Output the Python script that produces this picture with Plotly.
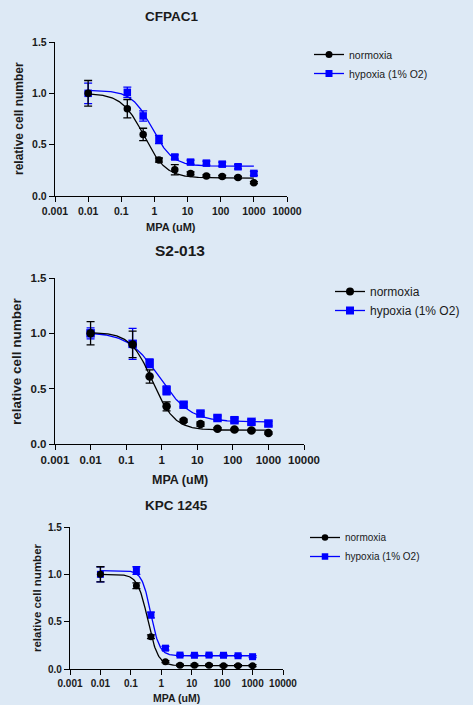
import numpy as np
import plotly.graph_objects as go

W, H = 473, 705
BG = "#dde9f5"
FONT = "Liberation Sans, Arial, sans-serif"

# ---------------- data ----------------
conc = [0.01, 0.152, 0.457, 1.37, 4.12, 12.3, 37.0, 111.0, 333.0, 1000.0]

titles = ["CFPAC1", "S2-013", "KPC 1245"]
series_names = ["normoxia", "hypoxia (1% O2)"]

cfpac_norm = [1.00, 0.85, 0.60, 0.35, 0.255, 0.22, 0.195, 0.19, 0.18, 0.13]
cfpac_norm_err = [0.125, 0.09, 0.06, 0.02, 0.05, 0.015, 0.01, 0.01, 0.01, 0.01]
cfpac_hyp = [1.00, 1.01, 0.78, 0.55, 0.38, 0.33, 0.32, 0.31, 0.285, 0.22]
cfpac_hyp_err = [0.10, 0.05, 0.05, 0.04, 0.02, 0.02, 0.02, 0.02, 0.02, 0.02]

s2_norm = [1.00, 0.90, 0.61, 0.34, 0.21, 0.18, 0.138, 0.13, 0.123, 0.10]
s2_norm_err = [0.105, 0.12, 0.06, 0.04, 0.015, 0.02, 0.01, 0.01, 0.01, 0.01]
s2_hyp = [1.00, 0.905, 0.73, 0.485, 0.355, 0.275, 0.235, 0.215, 0.20, 0.185]
s2_hyp_err = [0.05, 0.14, 0.04, 0.04, 0.02, 0.02, 0.02, 0.02, 0.02, 0.02]

kpc_norm = [1.00, 0.88, 0.34, 0.077, 0.04, 0.04, 0.04, 0.035, 0.035, 0.035]
kpc_norm_err = [0.08, 0.03, 0.02, 0.01, 0.01, 0.01, 0.01, 0.01, 0.01, 0.01]
kpc_hyp = [1.00, 1.04, 0.57, 0.22, 0.147, 0.145, 0.147, 0.145, 0.14, 0.13]
kpc_hyp_err = [0.08, 0.04, 0.03, 0.02, 0.01, 0.01, 0.01, 0.01, 0.01, 0.01]

# 4-parameter logistic fits: [top, bottom, IC50, hill]
cfpac_norm_fit = [1.00, 0.175, 0.48, 1.3]
cfpac_hyp_fit = [1.03, 0.29, 0.85, 1.4]
s2_norm_fit = [1.01, 0.125, 0.55, 1.4]
s2_hyp_fit = [1.01, 0.20, 0.85, 1.0]
kpc_norm_fit = [1.00, 0.035, 0.36, 2.6]
kpc_hyp_fit = [1.04, 0.14, 0.45, 3.0]

x_tickvals = [0.001, 0.01, 0.1, 1, 10, 100, 1000, 10000]
x_ticktext = ["0.001", "0.01", "0.1", "1", "10", "100", "1000", "10000"]
y_tickvals = [0.0, 0.5, 1.0, 1.5]
y_ticktext = ["0.0", "0.5", "1.0", "1.5"]

x_title = "MPA (uM)"
y_title = "relative cell number"

# ---------------- layout geometry (pixels) ----------------
panels = [
    dict(x0=55, x1=287, y0=42, y1=196, tick=10.5, title=13.5, axt=12, leg=10.5,
         legx=309, legy=40, ms=7.5, ytx=19, xty=227, tty=16),
    dict(x0=55, x1=304, y0=278, y1=444, tick=11.5, title=15.5, axt=13.5, leg=12,
         legx=330, legy=277, ms=8.5, ytx=16, xty=480, tty=251),
    dict(x0=70, x1=283, y0=527, y1=669, tick=10, title=13.5, axt=11.5, leg=10,
         legx=305, legy=523, ms=7, ytx=37, xty=698, tty=505),
]

def fourpl(x, p):
    top, bottom, ic50, hill = p
    x = np.asarray(x, dtype=float)
    return bottom + (top - bottom) / (1.0 + (x / ic50) ** hill)

data_sets = [
    (cfpac_norm, cfpac_norm_err, cfpac_hyp, cfpac_hyp_err, cfpac_norm_fit, cfpac_hyp_fit),
    (s2_norm, s2_norm_err, s2_hyp, s2_hyp_err, s2_norm_fit, s2_hyp_fit),
    (kpc_norm, kpc_norm_err, kpc_hyp, kpc_hyp_err, kpc_norm_fit, kpc_hyp_fit),
]

colors = ["#000000", "#0000ff"]
symbols = ["circle", "square"]

fig = go.Figure()
curve_x = np.logspace(np.log10(conc[0]), np.log10(conc[-1]), 300)

annotations = []
for i, (pan, ds) in enumerate(zip(panels, data_sets)):
    n = "" if i == 0 else str(i + 1)
    xa, ya = "x" + n, "y" + n
    leg = "legend" + n
    norm, norm_err, hyp, hyp_err, nfit, hfit = ds
    series = [(norm, norm_err, nfit), (hyp, hyp_err, hfit)]
    # draw hypoxia first so normoxia sits on top
    for k in [1, 0]:
        vals, errs, fit = series[k]
        fig.add_trace(go.Scatter(
            x=curve_x, y=fourpl(curve_x, fit), mode="lines",
            line=dict(color=colors[k], width=1.3), xaxis=xa, yaxis=ya,
            showlegend=False, hoverinfo="skip"))
        fig.add_trace(go.Scatter(
            x=conc, y=vals, mode="markers",
            marker=dict(color=colors[k], symbol=symbols[k], size=pan["ms"]),
            error_y=dict(type="data", array=errs, color=colors[k], thickness=1.3, width=4),
            xaxis=xa, yaxis=ya, showlegend=False))
    for k in [0, 1]:
        fig.add_trace(go.Scatter(
            x=[None], y=[None], mode="lines+markers", name=series_names[k],
            line=dict(color=colors[k], width=1.3),
            marker=dict(color=colors[k], symbol=symbols[k], size=pan["ms"] - 0.5),
            xaxis=xa, yaxis=ya, legend=leg, showlegend=True))

    axis_common = dict(showline=True, linecolor="black", linewidth=1.4,
                       ticks="outside", ticklen=5, tickwidth=1.4, tickcolor="black",
                       showgrid=False, zeroline=False, automargin=False,
                       tickfont=dict(family=FONT, size=pan["tick"], color="#1a1a1a",
                                     weight="bold"))
    fig.update_layout(**{
        "xaxis" + n: dict(type="log", range=[-3, 4], tickvals=x_tickvals,
                          ticktext=x_ticktext, anchor=ya,
                          domain=[pan["x0"] / W, pan["x1"] / W], **axis_common),
        "yaxis" + n: dict(range=[0, 1.5], tickvals=y_tickvals, ticktext=y_ticktext,
                          anchor=xa,
                          domain=[1 - pan["y1"] / H, 1 - pan["y0"] / H], **axis_common),
        leg: dict(x=pan["legx"] / W, y=1 - pan["legy"] / H, xanchor="left", yanchor="top",
                  bgcolor="rgba(0,0,0,0)", tracegroupgap=0,
                  font=dict(family=FONT, size=pan["leg"], color="#1a1a1a")),
    })
    cx = (pan["x0"] + pan["x1"]) / 2 / W
    annotations.append(dict(text=titles[i], x=cx, y=1 - pan["tty"] / H, xref="paper",
                            yref="paper", showarrow=False, xanchor="center", yanchor="middle",
                            font=dict(family=FONT, size=pan["title"], color="#1a1a1a",
                                      weight="bold")))
    annotations.append(dict(text=x_title, x=cx, y=1 - pan["xty"] / H, xref="paper",
                            yref="paper", showarrow=False, xanchor="center", yanchor="middle",
                            font=dict(family=FONT, size=pan["axt"] - 1, color="#1a1a1a",
                                      weight="bold")))
    annotations.append(dict(text=y_title, x=pan["ytx"] / W,
                            y=1 - (pan["y0"] + pan["y1"]) / 2 / H, xref="paper",
                            yref="paper", showarrow=False, xanchor="center", yanchor="middle",
                            textangle=-90,
                            font=dict(family=FONT, size=pan["axt"], color="#1a1a1a",
                                      weight="bold")))

fig.update_layout(width=W, height=H, margin=dict(l=0, r=0, t=0, b=0, autoexpand=False),
                  paper_bgcolor=BG, plot_bgcolor=BG, annotations=annotations,
                  font=dict(family=FONT))
fig.write_html("out.html", config={"displayModeBar": False},
               post_script="document.body.style.margin='0';"
                           "document.body.style.background='" + BG + "';")
